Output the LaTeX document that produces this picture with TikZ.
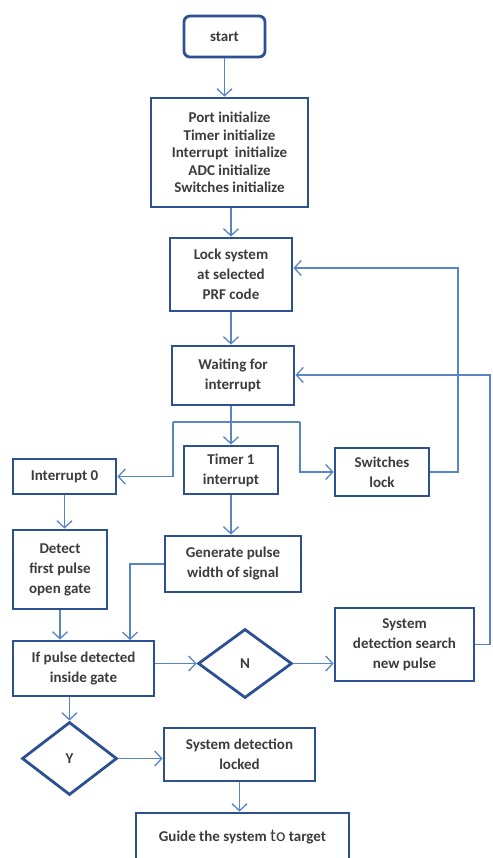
\documentclass[tikz,border=0pt]{standalone}
\usepackage{fontspec}
\setmainfont{Carlito}
\usetikzlibrary{shapes.geometric,arrows.meta}
\definecolor{boxblue}{RGB}{44,80,145}
\definecolor{lineblue}{RGB}{88,134,196}
\definecolor{txtgray}{RGB}{60,60,60}

\begin{document}
\begin{tikzpicture}[x=1pt,y=-1pt,
	box/.style={draw=boxblue,line width=2.8pt,fill=white,align=center,inner sep=1pt,text=txtgray,font=\bfseries\fontsize{15}{20}\selectfont},
	dec/.style={box,shape=diamond,inner sep=0pt},
	arr/.style={draw=lineblue,line width=1.3pt,-{Straight Barb[length=7pt,width=15pt,line width=1.3pt]}},
	link/.style={draw=lineblue,line width=1.3pt}]
	
	\useasboundingbox (0,0) rectangle (492,858);
	
	\node[box,rounded corners=6pt,minimum width=81pt,minimum height=41pt] (start) at (224.5, 36.5) {start};
	\node[box,minimum width=157pt,minimum height=109pt,font=\bfseries\fontsize{15}{17.5}\selectfont] (init) at (229.5, 152.5) {Port initialize\\Timer initialize\\Interrupt\ \ initialize\\ADC initialize\\Switches initialize};
	\node[box,minimum width=122pt,minimum height=73pt] (lock) at (231, 274.5) {Lock system\\at selected\\PRF code};
	\node[box,minimum width=122pt,minimum height=59pt] (wait) at (233, 375.5) {Waiting for\\interrupt};
	\node[box,minimum width=103pt,minimum height=35pt] (intz) at (64.5, 476.5) {Interrupt 0};
	\node[box,minimum width=94pt,minimum height=48pt] (timer) at (231, 470) {Timer 1\\interrupt};
	\node[box,minimum width=94pt,minimum height=48pt] (swlock) at (382, 472) {Switches\\lock};
	\node[box,minimum width=94pt,minimum height=79pt] (detect) at (60, 569.5) {Detect\\first pulse\\open gate};
	\node[box,minimum width=136pt,minimum height=56pt] (genpulse) at (233, 564) {Generate pulse\\width of signal};
	\node[box,minimum width=141pt,minimum height=55pt] (ifpulse) at (83.5, 668.5) {If pulse detected\\inside gate};
	\node[dec,minimum width=94pt,minimum height=69pt] (ndec) at (245, 663.5) {N};
	\node[box,minimum width=139pt,minimum height=73pt] (search) at (404.5, 644.5) {System\\detection search\\new pulse};
	\node[dec,minimum width=95pt,minimum height=73pt] (ydec) at (69.5, 758.5) {Y};
	\node[box,minimum width=151pt,minimum height=53pt] (locked) at (239.5, 754.5) {System detection\\locked};
	\node[box,minimum width=213pt,minimum height=48pt] (guide) at (242.5, 837) {Guide the system {\mdseries\fontsize{18}{18}\selectfont to} target};
	
	\coordinate (brl) at (173, 422);
	\coordinate (brr) at (300, 422);
	\coordinate (fbl) at (458, 268);
	\coordinate (fbs) at (490, 375);
	\coordinate (gpj) at (130, 640);
	
	\draw[arr] (start.south) -- (start.south |- init.north);
	\draw[arr] (lock.north |- init.south) -- (lock.north);
	\draw[arr] (lock.south) -- (lock.south |- wait.north);
	\draw[arr] (wait.south -| timer.north) -- (timer.north);
	\draw[link] (brl) -- (brr);
	\draw[arr] (brl) |- (intz.east);
	\draw[arr] (brr) |- (swlock.west);
	\draw[arr] (swlock.east) -| (fbl) -- (fbl -| lock.east);
	\draw[arr] (search.east) -| (fbs) -- (fbs -| wait.east);
	\draw[arr] (intz.south) -- (intz.south |- detect.north);
	\draw[arr] (timer.south) -- (timer.south |- genpulse.north);
	\draw[arr] (genpulse.west) -| (gpj);
	\draw[arr] (detect.south) -- (detect.south |- ifpulse.north);
	\draw[arr] (ifpulse.east |- ndec.west) -- (ndec.west);
	\draw[arr] (ndec.east) -- (ndec.east -| search.west);
	\draw[arr] (ydec.north |- ifpulse.south) -- (ydec.north);
	\draw[arr] (ydec.east) -- (ydec.east -| locked.west);
	\draw[arr] (locked.south) -- (locked.south |- guide.north);
	
\end{tikzpicture}
\end{document}
